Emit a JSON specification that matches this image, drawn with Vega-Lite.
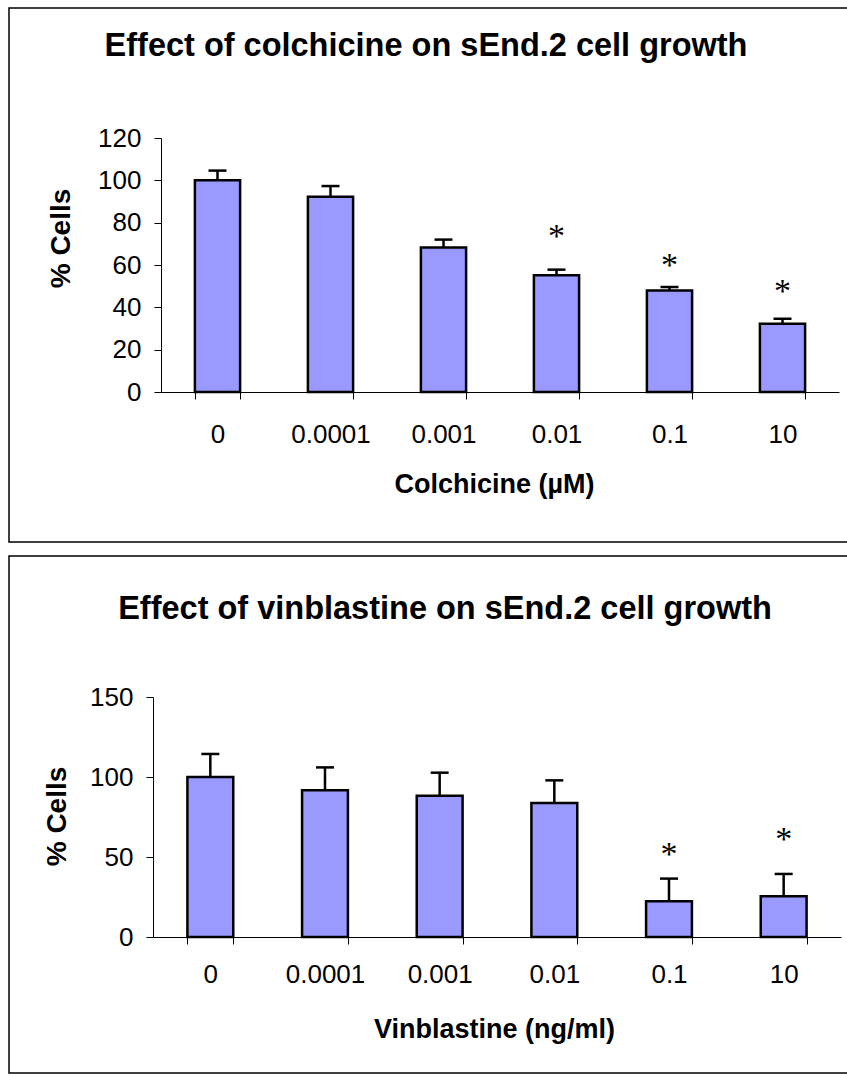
{
  "$schema": "https://vega.github.io/schema/vega-lite/v6.json",
  "padding": {"left": 8, "top": 7, "right": 0, "bottom": 5},
  "background": "white",
  "spacing": 12,
  "config": {
    "view": {"stroke": "black", "strokeWidth": 1.5},
    "font": "Liberation Sans",
    "axis": {"grid": false, "labelFont": "Liberation Sans", "titleFont": "Liberation Sans", "labelColor": "black", "titleColor": "black", "domainColor": "black", "tickColor": "black", "domainWidth": 1, "tickWidth": 1}
  },
  "datasets": {
    "colchicine": [
      {"conc": "0", "mean": 100, "upper": 104.6, "star": "", "starY": null},
      {"conc": "0.0001", "mean": 92.3, "upper": 97.3, "star": "", "starY": null},
      {"conc": "0.001", "mean": 68.3, "upper": 72, "star": "", "starY": null},
      {"conc": "0.01", "mean": 55.1, "upper": 57.8, "star": "*", "starY": 76},
      {"conc": "0.1", "mean": 47.9, "upper": 49.6, "star": "*", "starY": 62},
      {"conc": "10", "mean": 32.3, "upper": 34.6, "star": "*", "starY": 50}
    ],
    "vinblastine": [
      {"conc": "0", "mean": 100, "upper": 114.4, "star": "", "starY": null},
      {"conc": "0.0001", "mean": 91.7, "upper": 106, "star": "", "starY": null},
      {"conc": "0.001", "mean": 88.3, "upper": 102.7, "star": "", "starY": null},
      {"conc": "0.01", "mean": 83.75, "upper": 97.9, "star": "", "starY": null},
      {"conc": "0.1", "mean": 22.3, "upper": 36.5, "star": "*", "starY": 54.5},
      {"conc": "10", "mean": 25.4, "upper": 39.4, "star": "*", "starY": 64}
    ]
  },
  "vconcat": [
    {
      "width": 839,
      "height": 534,
      "view": {"stroke": "black", "strokeWidth": 1.5, "strokeDash": [838, 536, 2000]},
      "data": {"name": "colchicine"},
      "title": {"text": "Effect of colchicine on sEnd.2 cell growth", "frame": "group", "anchor": "middle", "fontSize": 32.5, "fontWeight": "bold", "font": "Liberation Sans", "baseline": "alphabetic", "offset": 0, "dy": 80, "dx": -2.5, "color": "black"},
      "encoding": {
        "x": {
          "field": "conc", "type": "nominal", "sort": ["0", "0.0001", "0.001", "0.01", "0.1", "10"],
          "scale": {"range": [152, 830], "paddingInner": 0.6, "paddingOuter": 0.3},
          "axis": {"title": "Colchicine (µM)", "orient": "bottom", "offset": -150, "labelAngle": 0, "tickBand": "extent", "tickSize": 7, "labelPadding": 22, "labelFontSize": 26, "labelFontWeight": "normal", "titleFontSize": 27, "titleFontWeight": "bold", "titleX": 485, "titleY": 92, "titleBaseline": "middle", "titleAlign": "center", "labelOverlap": false}
        }
      },
      "layer": [
        {
          "mark": {"type": "rule", "strokeWidth": 2.5, "color": "black"},
          "encoding": {
            "y": {"field": "mean", "type": "quantitative", "title": "% Cells", "scale": {"domain": [0, 120], "range": [384, 130], "nice": false},
              "axis": {"title": "% Cells", "offset": -152, "values": [0, 20, 40, 60, 80, 100, 120], "tickSize": 7, "labelPadding": 13, "labelFontSize": 26, "titleFontSize": 28, "titleFontWeight": "bold", "titleX": -100, "titleY": 230, "titleAngle": -90, "titleAlign": "center", "titleBaseline": "middle"}},
            "y2": {"field": "upper"}
          }
        },
        {
          "mark": {"type": "bar", "fill": "#9999FF", "stroke": "black", "strokeWidth": 2.5},
          "encoding": {"y": {"field": "mean", "type": "quantitative", "title": "% Cells"}}
        },
        {
          "mark": {"type": "tick", "orient": "horizontal", "size": 18, "thickness": 2.5, "color": "black", "opacity": 1},
          "encoding": {"y": {"field": "upper", "type": "quantitative", "title": "% Cells"}}
        },
        {
          "transform": [{"filter": "datum.star != ''"}],
          "mark": {"type": "text", "font": "Liberation Serif", "fontSize": 34, "baseline": "alphabetic", "dy": 15.5, "color": "black"},
          "encoding": {"y": {"field": "starY", "type": "quantitative", "title": "% Cells"}, "text": {"field": "star"}}
        }
      ]
    },
    {
      "width": 839,
      "height": 517,
      "view": {"stroke": "black", "strokeWidth": 1.5, "strokeDash": [838, 519, 2000]},
      "data": {"name": "vinblastine"},
      "title": {"text": "Effect of vinblastine on sEnd.2 cell growth", "frame": "group", "anchor": "middle", "fontSize": 32.5, "fontWeight": "bold", "font": "Liberation Sans", "baseline": "alphabetic", "offset": 0, "dy": 95, "dx": 16.5, "color": "black"},
      "encoding": {
        "x": {
          "field": "conc", "type": "nominal", "sort": ["0", "0.0001", "0.001", "0.01", "0.1", "10"],
          "scale": {"range": [144, 832], "paddingInner": 0.6, "paddingOuter": 0.3},
          "axis": {"title": "Vinblastine (ng/ml)", "orient": "bottom", "offset": -136, "labelAngle": 0, "tickBand": "extent", "tickSize": 7, "labelPadding": 17, "labelFontSize": 26, "titleFontSize": 27, "titleFontWeight": "bold", "titleX": 485, "titleY": 92, "titleBaseline": "middle", "titleAlign": "center", "labelOverlap": false}
        }
      },
      "layer": [
        {
          "mark": {"type": "rule", "strokeWidth": 2.5, "color": "black"},
          "encoding": {
            "y": {"field": "mean", "type": "quantitative", "title": "% Cells", "scale": {"domain": [0, 150], "range": [381, 141], "nice": false},
              "axis": {"title": "% Cells", "offset": -144, "values": [0, 50, 100, 150], "tickSize": 7, "labelPadding": 13, "labelFontSize": 26, "titleFontSize": 28, "titleFontWeight": "bold", "titleX": -96, "titleY": 260, "titleAngle": -90, "titleAlign": "center", "titleBaseline": "middle"}},
            "y2": {"field": "upper"}
          }
        },
        {
          "mark": {"type": "bar", "fill": "#9999FF", "stroke": "black", "strokeWidth": 2.5},
          "encoding": {"y": {"field": "mean", "type": "quantitative", "title": "% Cells"}}
        },
        {
          "mark": {"type": "tick", "orient": "horizontal", "size": 18, "thickness": 2.5, "color": "black", "opacity": 1},
          "encoding": {"y": {"field": "upper", "type": "quantitative", "title": "% Cells"}}
        },
        {
          "transform": [{"filter": "datum.star != ''"}],
          "mark": {"type": "text", "font": "Liberation Serif", "fontSize": 34, "baseline": "alphabetic", "dy": 15.5, "color": "black"},
          "encoding": {"y": {"field": "starY", "type": "quantitative", "title": "% Cells"}, "text": {"field": "star"}}
        }
      ]
    }
  ]
}
